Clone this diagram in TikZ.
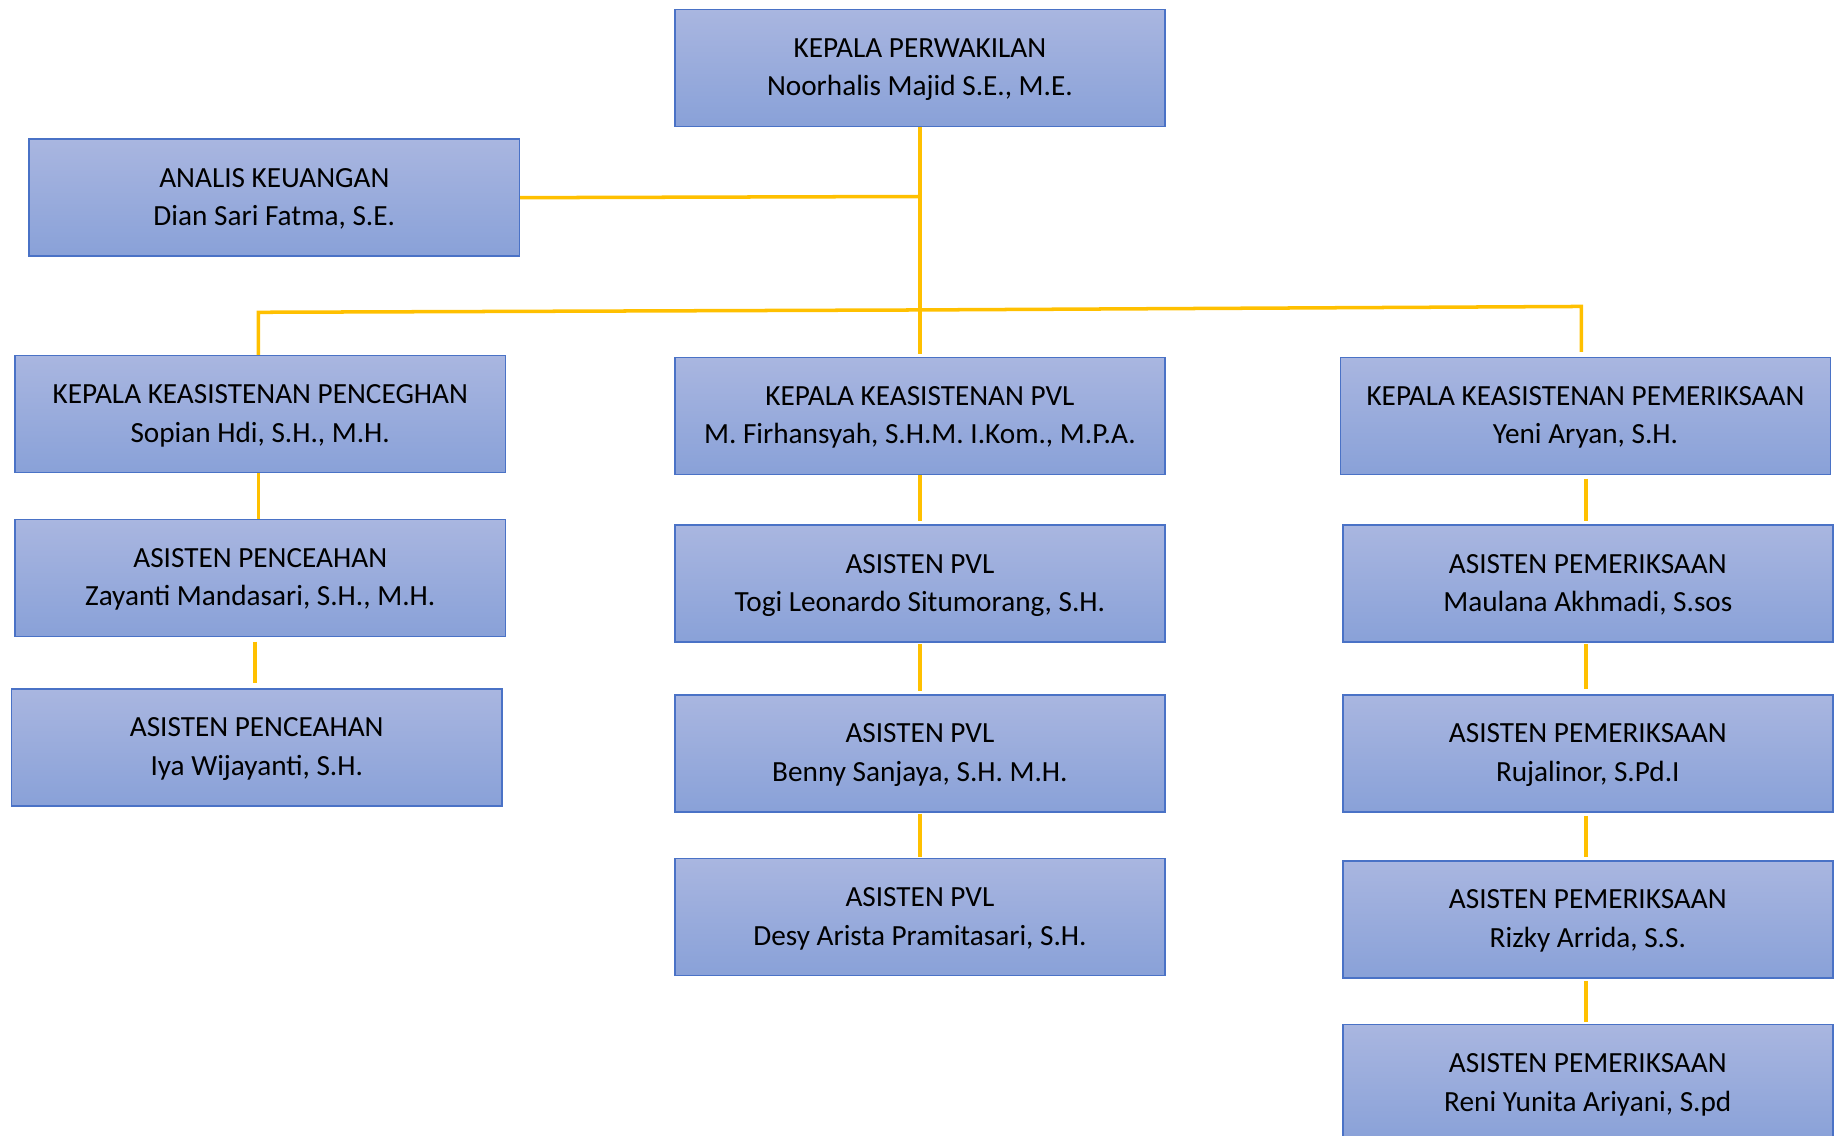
\documentclass[tikz,border=0pt]{standalone}
\usepackage{fontspec}
\setmainfont{Carlito}
\definecolor{boxtop}{HTML}{A9B6E0}
\definecolor{boxbot}{HTML}{89A1D8}
\definecolor{boxborder}{HTML}{4A72C6}
\definecolor{linkcol}{HTML}{FFC000}
\newcommand{\bxt}[2]{\rule{0pt}{22pt}#1\\#2\rule[-7pt]{0pt}{7pt}}
\begin{document}
\begin{tikzpicture}[x=1pt,y=-1pt,
  box/.style={draw=boxborder, line width=1.3pt, top color=boxtop, bottom color=boxbot,
    minimum width=419pt, minimum height=100pt, inner sep=0pt, align=center,
    font=\fontsize{25}{33}\selectfont, text=black},
  link/.style={draw=linkcol, line width=3pt}]
\useasboundingbox (0,0) rectangle (1568,971.2);
% nodes
\node[box] (top)   at (786.5,58)   {\bxt{KEPALA PERWAKILAN}{Noorhalis Majid S.E., M.E.}};
\node[box] (analis) at (234.5,169) {\bxt{ANALIS KEUANGAN}{Dian Sari Fatma, S.E.}};
\node[box] (kkpen) at (222.5,354)  {\bxt{KEPALA KEASISTENAN PENCEGHAN}{Sopian Hdi, S.H., M.H.}};
\node[box] (kkpvl) at (786.5,355.5) {\bxt{KEPALA KEASISTENAN PVL}{M. Firhansyah, S.H.M. I.Kom., M.P.A.}};
\node[box] (kkpem) at (1355.5,355.5) {\bxt{KEPALA KEASISTENAN PEMERIKSAAN}{Yeni Aryan, S.H.}};
\node[box] (apen1) at (222.5,494)  {\bxt{ASISTEN PENCEAHAN}{Zayanti Mandasari, S.H., M.H.}};
\node[box] (apen2) at (219.5,639)  {\bxt{ASISTEN PENCEAHAN}{Iya Wijayanti, S.H.}};
\node[box] (pvl1)  at (786.5,499)  {\bxt{ASISTEN PVL}{Togi Leonardo Situmorang, S.H.}};
\node[box] (pvl2)  at (786.5,644)  {\bxt{ASISTEN PVL}{Benny Sanjaya, S.H. M.H.}};
\node[box] (pvl3)  at (786.5,784)  {\bxt{ASISTEN PVL}{Desy Arista Pramitasari, S.H.}};
\node[box] (pem1)  at (1357.5,499) {\bxt{ASISTEN PEMERIKSAAN}{Maulana Akhmadi, S.sos}};
\node[box] (pem2)  at (1357.5,644) {\bxt{ASISTEN PEMERIKSAAN}{Rujalinor, S.Pd.I}};
\node[box] (pem3)  at (1357.5,786) {\bxt{ASISTEN PEMERIKSAAN}{Rizky Arrida, S.S.}};
\node[box] (pem4)  at (1357.5,926) {\bxt{ASISTEN PEMERIKSAAN}{Reni Yunita Ariyani, S.pd}};
% connector coordinates
\coordinate (trunkA) at (786,168);
\coordinate (busL) at (221,267);
\coordinate (busM) at (786,265);
\coordinate (busR) at (1352,262);
\coordinate (colL) at (218,0);
\coordinate (colR) at (1356,0);
% connectors
\draw[link, shorten >=2pt] (top.south) -- (kkpvl.north);
\draw[link] (analis.east) -- (trunkA);
\draw[link, shorten >=4pt] (busL |- kkpen.north) -- (busL) -- (busM) -- (busR) -- (busR |- kkpem.north);
\draw[link] (busL |- kkpen.south) -- (busL |- apen1.north);
\draw[link, shorten <=4pt, shorten >=4pt] (colL |- apen1.south) -- (colL |- apen2.north);
\draw[link, shorten >=3pt] (kkpvl.south) -- (pvl1.north);
\draw[link, shorten <=1pt, shorten >=3pt] (pvl1.south) -- (pvl2.north);
\draw[link, shorten <=1pt, shorten >=1pt] (pvl2.south) -- (pvl3.north);
\draw[link, shorten <=3pt, shorten >=3pt] (colR |- kkpem.south) -- (colR |- pem1.north);
\draw[link, shorten <=1pt, shorten >=4pt] (colR |- pem1.south) -- (colR |- pem2.north);
\draw[link, shorten <=3pt, shorten >=3pt] (colR |- pem2.south) -- (colR |- pem3.north);
\draw[link, shorten <=2pt, shorten >=2pt] (colR |- pem3.south) -- (colR |- pem4.north);
\end{tikzpicture}
\end{document}
